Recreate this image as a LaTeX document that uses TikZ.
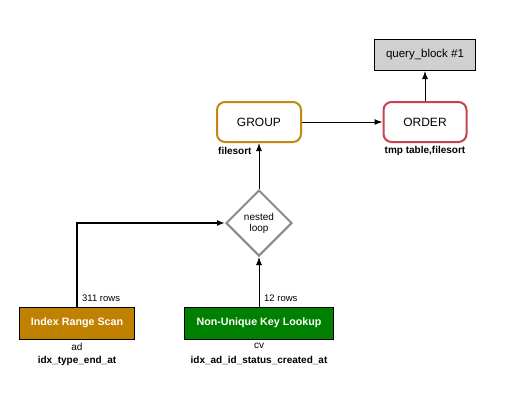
\documentclass[tikz,border=0pt]{standalone}
\usepackage{fontspec}
\setmainfont{Liberation Sans}
\usetikzlibrary{shapes.geometric,arrows.meta}
\definecolor{scanc}{HTML}{C08000}
\definecolor{lookc}{HTML}{008000}
\definecolor{groupc}{HTML}{C3890F}
\definecolor{orderc}{HTML}{C4434D}
\definecolor{loopc}{HTML}{8A8A8A}
\definecolor{qbc}{HTML}{D0D0D0}
\tikzset{
  opbox/.style={draw,rounded corners=8pt,line width=2pt,minimum width=83pt,minimum height=40pt,inner sep=0pt,font=\fontsize{12}{14}\selectfont},
  accbox/.style={draw,line width=1pt,minimum height=32pt,inner sep=0pt,text=white,font=\fontsize{10.7}{12}\selectfont\bfseries},
  note/.style={inner sep=0pt,font=\fontsize{10}{12}\selectfont\bfseries},
  tbl/.style={inner sep=0pt,font=\fontsize{10}{12}\selectfont},
  rows/.style={inner sep=0pt,font=\fontsize{9.5}{11}\selectfont,anchor=west}
}
\begin{document}
\begin{tikzpicture}[>={Latex[length=8pt,width=6pt]},x=1pt,y=-1pt]
\useasboundingbox (0,0) rectangle (507,416);
% result
\node[draw,fill=qbc,line width=1pt,minimum width=101pt,minimum height=31pt,inner sep=0pt,font=\fontsize{11.5}{13}\selectfont] (qb) at (425,55) {query\_block \#1};
\node[opbox,draw=orderc] (order) at (425,122) {ORDER};
\node[note] at (425,151) {tmp table,filesort};
\node[opbox,draw=groupc,minimum width=84pt] (group) at (259,122) {GROUP};
\node[note,anchor=west] at (218,151) {filesort};
% join
\node[diamond,draw=loopc,line width=2pt,minimum width=66pt,minimum height=66pt,inner sep=0pt,align=center,font=\fontsize{10}{11}\selectfont] (loop) at (259,223) {nested\\loop};
% tables
\node[accbox,fill=scanc,minimum width=115pt] (scan) at (77,323) {Index Range Scan};
\node[accbox,fill=lookc,minimum width=149pt] (look) at (259,323) {Non-Unique Key Lookup};
\node[tbl] at (77,347) {ad};
\node[note] at (77,361) {idx\_type\_end\_at};
\node[tbl] at (259,346) {cv};
\node[note] at (259,360) {idx\_ad\_id\_status\_created\_at};
% flow
\draw[->,line width=2pt] (scan.north) |- (loop.west);
\node[rows] at (82,298) {311 rows};
\draw[->,line width=1pt] (look.north) -- (loop.south);
\node[rows] at (264,298) {12 rows};
\draw[->,line width=1pt] (loop.north) -- (group.south);
\draw[->,line width=1pt] (group.east) -- (order.west);
\draw[->,line width=1pt] (order.north) -- (qb.south);
\end{tikzpicture}
\end{document}
